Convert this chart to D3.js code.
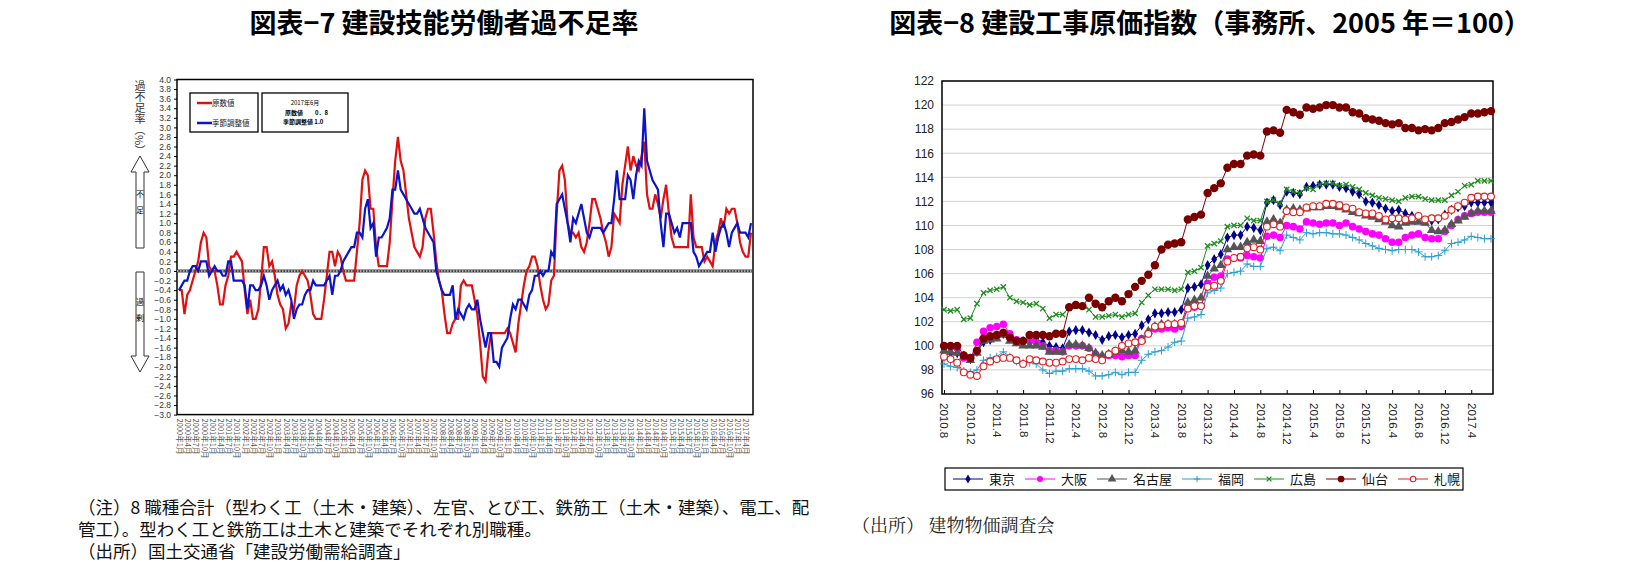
<!DOCTYPE html>
<html><head><meta charset="utf-8">
<script src="https://cdn.jsdelivr.net/npm/d3@7"></script>
<style>body{margin:0;background:#fff;font-family:"Noto Sans CJK JP",sans-serif}</style>
</head><body><svg id="c" width="1651" height="580"></svg>
<script>
// ---- Chart 7 data (monthly 2000年1月 - 2017年6月) ----
const raw7 = [
-0.4,-0.4,-0.9,-0.5,-0.4,-0.2,0.0,0.2,0.6,0.8,0.7,0.1,
0.0,0.0,-0.3,-0.7,-0.7,-0.3,-0.1,0.3,0.3,0.4,0.3,0.2,
-0.4,-0.9,-0.6,-1.0,-1.0,-0.8,-0.2,0.5,0.5,0.1,0.2,-0.1,
-0.5,-0.7,-0.8,-1.2,-1.1,-0.7,-0.8,-0.3,-0.1,0.0,-0.1,-0.2,
-0.5,-0.9,-1.0,-1.0,-1.0,-0.6,-0.1,0.4,0.4,0.1,0.4,0.3,
0.0,-0.2,-0.2,-0.2,-0.2,0.4,1.0,1.9,2.1,2.0,1.3,1.3,
0.5,0.1,0.1,0.1,0.1,0.6,1.5,2.3,2.8,2.3,2.1,1.6,
1.1,0.8,0.5,0.4,0.3,0.5,1.1,1.3,1.3,0.8,0.2,-0.2,
-0.4,-0.9,-1.3,-1.3,-1.1,-1.0,-1.0,-0.3,-0.2,-0.3,-0.3,-0.3,
-0.6,-0.9,-1.5,-2.2,-2.3,-1.7,-1.3,-1.3,-1.3,-1.3,-1.3,-1.3,
-1.2,-1.3,-1.5,-1.7,-1.1,-0.7,-0.3,0.0,0.1,0.3,0.3,0.1,
-0.3,-0.6,-0.8,-0.7,-0.2,-0.1,1.2,2.1,2.2,1.9,1.0,0.8,
0.8,0.7,0.8,0.5,0.4,0.6,1.0,1.5,1.5,1.3,1.1,0.8,
0.6,0.3,0.5,1.2,1.1,1.0,1.8,2.2,2.6,2.1,2.4,2.2,
2.1,2.4,2.7,1.6,1.3,1.3,1.6,1.4,1.1,1.5,1.8,1.2,
0.7,0.5,0.5,0.5,0.5,0.5,0.5,1.6,0.7,0.5,0.5,0.5,
0.2,0.3,0.2,0.1,0.6,0.8,1.1,0.9,1.3,1.2,1.3,1.3,
1.0,0.6,0.4,0.3,0.3,0.8];
const sa7 = [
-0.4,-0.3,-0.2,-0.2,0.0,0.1,0.1,0.0,0.2,0.2,0.2,-0.1,
0.0,0.1,0.0,0.0,-0.1,-0.1,0.2,0.2,-0.2,-0.2,-0.2,-0.2,
-0.3,-0.8,-0.3,-0.3,-0.4,-0.4,-0.3,-0.1,-0.3,-0.6,-0.4,-0.3,
-0.2,-0.4,-0.3,-0.5,-0.4,-0.6,-1.0,-0.8,-0.7,-0.7,-0.5,-0.4,
-0.4,-0.2,-0.3,-0.3,-0.3,-0.3,-0.2,-0.1,-0.5,-0.1,-0.1,0.0,
0.2,0.3,0.4,0.5,0.5,0.8,0.8,0.7,1.3,1.5,0.9,1.0,
0.3,0.7,0.7,0.8,0.9,1.1,1.7,1.7,2.1,1.7,1.6,1.5,
1.4,1.3,1.2,1.2,1.3,1.1,0.9,0.8,0.7,0.6,0.0,-0.2,
-0.4,-0.5,-0.5,-0.5,-0.3,-1.0,-0.8,-0.9,-1.0,-0.8,-0.7,-0.8,
-0.8,-0.6,-1.0,-1.3,-1.6,-1.3,-1.3,-1.9,-1.9,-2.0,-1.6,-1.5,
-1.4,-1.0,-0.7,-0.8,-0.6,-0.6,-0.7,-0.8,-0.5,-0.4,-0.1,-0.1,
0.0,-0.1,0.0,0.0,0.4,0.3,1.4,1.5,1.6,1.3,1.0,0.6,
1.1,1.0,1.2,1.4,1.1,0.8,0.7,0.9,0.9,0.9,0.9,0.8,
0.9,1.0,1.0,1.5,2.1,1.5,1.5,1.5,2.0,1.9,1.5,2.0,
2.3,2.2,3.4,2.3,2.1,1.9,1.8,1.7,1.0,0.5,1.2,1.2,
1.0,0.8,0.9,0.7,1.0,1.0,1.0,1.0,0.4,0.3,0.1,0.2,
0.3,0.4,0.4,0.8,0.4,0.7,0.9,1.0,0.8,0.5,0.8,0.9,
1.0,0.8,0.8,0.8,0.7,1.0];
const startYear7 = 2000;
const yTicks7 = d3.range(-30, 41, 2).map(v => v / 10);

// ---- Chart 8 data (monthly 2010.8 - 2017.7) ----
const cities = ["東京","大阪","名古屋","福岡","広島","仙台","札幌"];
const tokyo = [99.7,99.4,99.4,99.2,98.9,99.5,100.3,100.5,100.8,101.0,100.6,100.4,100.4,100.5,100.6,100.3,100.0,99.9,99.8,101.2,101.3,101.3,101.1,100.9,100.5,100.8,100.9,100.7,100.9,101.0,101.7,102.2,102.7,102.7,102.8,102.8,103.0,104.8,104.9,105.1,106.7,107.2,107.6,109.0,109.2,109.2,109.9,109.8,109.6,111.9,112.1,111.7,112.8,112.7,112.6,113.2,113.3,113.4,113.4,113.4,113.2,113.1,112.8,112.6,112.0,111.9,111.7,111.4,111.2,111.3,111.0,110.8,110.7,110.4,110.4,110.5,110.9,111.3,111.5,111.6,111.9,111.9,111.9,111.9];
const osaka = [100.0,99.9,99.8,99.0,98.9,100.3,101.2,101.5,101.6,101.8,101.0,100.5,100.4,100.4,100.3,100.0,99.6,99.6,99.5,100.0,100.0,100.0,99.8,99.3,99.1,99.2,99.2,99.1,99.2,99.2,100.6,101.0,101.4,101.4,101.5,101.4,101.6,103.1,103.2,103.3,105.2,105.7,105.8,107.2,107.3,107.3,107.5,107.4,107.3,109.1,109.2,109.0,110.0,109.9,109.7,110.3,110.2,110.1,110.2,110.2,110.0,110.2,109.9,109.7,109.5,109.3,109.2,108.9,108.6,108.6,109.0,109.2,109.3,109.0,108.9,108.9,109.5,110.0,110.5,110.8,111.0,111.1,111.1,111.1];
const nagoya = [99.6,99.5,99.4,99.1,98.8,99.4,100.4,100.5,100.6,100.9,100.4,100.2,100.0,100.0,100.0,99.9,99.5,99.5,99.5,100.1,100.1,100.0,99.8,99.4,99.2,99.3,99.5,99.6,99.5,99.6,100.5,101.2,101.6,101.8,101.8,101.8,101.8,103.6,103.8,104.0,105.8,106.4,106.7,108.0,108.2,108.2,108.6,108.8,108.7,110.3,110.5,110.2,111.3,111.4,111.3,111.4,111.5,111.5,111.6,111.6,111.5,111.3,111.1,111.0,110.8,110.7,110.5,110.3,110.0,109.9,110.2,110.3,110.3,110.2,109.6,109.5,109.6,110.1,110.4,110.7,111.0,111.2,111.2,111.2];
const fukuoka = [98.5,98.3,98.2,97.9,97.8,98.0,98.8,99.0,99.1,99.5,99.1,98.7,98.6,98.6,98.5,98.0,97.7,97.9,97.9,98.1,98.1,98.1,97.9,97.5,97.5,97.6,97.8,97.6,97.8,97.8,98.8,99.3,99.5,99.6,99.9,100.3,100.4,102.3,102.4,102.6,104.4,104.6,104.8,106.0,106.1,106.2,106.8,106.6,106.6,108.1,108.2,107.9,109.2,109.0,108.8,109.4,109.3,109.4,109.4,109.3,109.3,109.2,109.0,108.8,108.5,108.3,108.1,108.0,107.9,108.0,108.0,108.0,107.8,107.4,107.4,107.5,107.9,108.5,108.6,108.8,109.1,109.0,108.9,108.9];
const hiroshima = [103.0,102.9,103.0,102.2,102.3,103.5,104.4,104.6,104.7,104.9,104.0,103.7,103.6,103.4,103.5,103.1,102.3,102.6,102.6,103.2,103.3,103.3,103.0,102.4,102.4,102.5,102.6,102.4,102.6,102.7,103.6,104.2,104.7,104.7,104.7,104.6,104.7,106.1,106.2,106.5,108.3,108.5,108.7,109.9,110.0,110.0,110.6,110.4,110.4,112.0,112.1,111.8,113.0,112.8,112.7,113.1,113.0,113.4,113.5,113.5,113.3,113.4,113.2,113.0,112.7,112.5,112.3,112.2,112.1,112.0,112.3,112.4,112.4,112.2,112.1,112.1,112.1,112.5,112.8,113.3,113.4,113.7,113.7,113.7];
const sendai = [100.0,100.0,100.0,99.2,99.0,99.6,100.6,100.8,100.9,101.1,100.7,100.4,100.4,100.9,100.9,100.9,100.8,101.0,101.0,103.2,103.4,103.3,104.0,103.5,103.2,103.7,104.0,103.7,104.3,104.9,105.4,105.9,106.7,108.0,108.4,108.5,108.6,110.5,110.7,110.9,112.7,113.1,113.5,114.8,115.1,115.1,115.8,115.9,115.8,117.8,117.9,117.7,119.6,119.4,119.2,119.8,119.7,119.8,120.0,120.0,119.8,119.8,119.4,119.3,118.9,118.8,118.7,118.5,118.4,118.5,118.1,118.1,117.9,118.0,117.9,118.1,118.5,118.6,118.8,119.0,119.3,119.3,119.4,119.5];
const sapporo = [99.1,98.9,98.6,97.8,97.6,97.5,98.3,98.7,98.9,99.0,99.0,98.8,98.5,98.9,98.8,98.7,98.6,98.6,98.7,98.9,98.9,98.8,99.0,98.9,98.8,99.3,99.6,100.0,100.2,100.3,100.4,101.0,101.6,101.7,101.8,101.8,101.9,103.1,103.3,103.3,104.9,105.0,105.4,107.0,107.3,107.4,108.1,108.2,108.0,109.9,110.1,109.9,111.2,111.1,111.1,111.5,111.6,111.6,111.8,111.8,111.7,111.5,111.4,111.1,111.0,111.0,110.8,110.5,110.6,110.6,110.5,110.6,110.8,110.5,110.6,110.6,110.8,111.3,111.6,111.9,112.3,112.4,112.4,112.4];
const startYear8 = 2010, startMonth8 = 8;
const yTicks8 = d3.range(96, 123, 2);

const svg = d3.select("#c");
const JP = '"Noto Sans CJK JP",sans-serif';

// ---------- titles ----------
svg.append("text").attr("x",444).attr("y",33).attr("text-anchor","middle")
  .attr("font-family",JP).attr("font-weight","bold").attr("font-size",27).text("図表−7  建設技能労働者過不足率");
svg.append("text").attr("x",1210).attr("y",33).attr("text-anchor","middle")
  .attr("font-family",JP).attr("font-weight","bold").attr("font-size",27).text("図表−8  建設工事原価指数（事務所、2005 年＝100）");

// ---------- Chart 7 ----------
const L = {x0:177,x1:753,y0:79.5,y1:414.6};
const x7 = d3.scaleLinear().domain([0, raw7.length-1]).range([L.x0+2, L.x1-2]);
const y7 = d3.scaleLinear().domain([-3,4]).range([L.y1, L.y0]);
const g7 = svg.append("g");
g7.append("rect").attr("x",L.x0).attr("y",L.y0).attr("width",L.x1-L.x0).attr("height",L.y1-L.y0)
  .attr("fill","none").attr("stroke","#000").attr("stroke-width",1.5);
const ay7 = g7.append("g").attr("transform",`translate(${L.x0},0)`)
  .call(d3.axisLeft(y7).tickValues(yTicks7).tickFormat(d3.format(".1f")).tickSize(3));
ay7.select(".domain").remove();
ay7.selectAll("text").attr("font-family","Arial,Liberation Sans").attr("font-size",8.5).attr("fill","#333");
// zero line (hatched)
g7.append("line").attr("x1",L.x0).attr("x2",L.x1).attr("y1",y7(0)).attr("y2",y7(0))
  .attr("stroke","#444").attr("stroke-width",3);
g7.append("line").attr("x1",L.x0).attr("x2",L.x1).attr("y1",y7(0)).attr("y2",y7(0))
  .attr("stroke","#fff").attr("stroke-width",1.2).attr("stroke-dasharray","1.5,1.5");
// x labels (quarterly)
const q7 = d3.range(0, raw7.length, 3);
const ax7 = g7.append("g").attr("transform",`translate(0,${L.y1})`)
  .call(d3.axisBottom(x7).tickValues(q7).tickSize(0)
    .tickFormat(i => `${startYear7+Math.floor(i/12)}年${i%12+1}月`));
ax7.select(".domain").remove();
ax7.selectAll("text").attr("font-family",JP).attr("font-size",7.5).attr("fill","#555")
  .attr("transform","rotate(90)").attr("text-anchor","start").attr("x",4).attr("y",0).attr("dy","0.35em");
// lines
const line7 = d3.line().x((d,i)=>x7(i)).y(d=>y7(d));
g7.append("path").datum(raw7).attr("d",line7).attr("fill","none").attr("stroke","#e01010").attr("stroke-width",2.2);
g7.append("path").datum(sa7).attr("d",line7).attr("fill","none").attr("stroke","#0a14c8").attr("stroke-width",2.2);
// legend boxes
g7.append("rect").attr("x",190).attr("y",93).attr("width",68).attr("height",39).attr("fill","#fff").attr("stroke","#000").attr("stroke-width",1.3);
g7.append("rect").attr("x",262).attr("y",93).attr("width",86).attr("height",39).attr("fill","#fff").attr("stroke","#000").attr("stroke-width",1.3);
[["原数値","#e01010",103],["季節調整値","#0a14c8",123]].forEach(([t,c,y])=>{
  g7.append("line").attr("x1",197).attr("x2",212).attr("y1",y).attr("y2",y).attr("stroke",c).attr("stroke-width",2.5);
  g7.append("text").attr("x",212).attr("y",y+3).attr("font-family",JP).attr("font-size",7.5).attr("fill","#222").text(t);
});
g7.append("text").attr("x",305).attr("y",105).attr("text-anchor","middle").attr("font-family",JP).attr("font-size",6).text("2017年6月");
g7.append("text").attr("x",285).attr("y",115).attr("font-family",JP).attr("font-size",6).attr("font-weight","bold").text("原数値　　0．8");
g7.append("text").attr("x",283).attr("y",124).attr("font-family",JP).attr("font-size",6).attr("font-weight","bold").text("季節調整値  1.0");
// y title and arrow
const yt = g7.append("text").attr("x",140).attr("y",80).attr("font-family",JP).attr("font-size",11).attr("fill","#333")
  .attr("writing-mode","vertical-rl").attr("text-anchor","start");
yt.text("過不足率（%）");
g7.append("path").attr("d","M140,156 L131,172 L136,172 L136,248 L144,248 L144,172 L149,172 Z").attr("fill","#fff").attr("stroke","#333");
g7.append("path").attr("d","M140,372 L131,356 L136,356 L136,272 L144,272 L144,356 L149,356 Z").attr("fill","#fff").attr("stroke","#333");
g7.append("text").attr("x",140).attr("y",190).attr("font-family",JP).attr("font-size",8).attr("writing-mode","vertical-rl").text("不　足");
g7.append("text").attr("x",140).attr("y",298).attr("font-family",JP).attr("font-size",8).attr("writing-mode","vertical-rl").text("過　剰");

// notes
[["（注）8 職種合計（型わく工（土木・建築）、左官、とび工、鉄筋工（土木・建築）、電工、配",514],
 ["管工）。型わく工と鉄筋工は土木と建築でそれぞれ別職種。",536],
 ["（出所）国土交通省「建設労働需給調査」",558]].forEach(([t,y])=>{
  svg.append("text").attr("x",78).attr("y",y).attr("font-family",JP).attr("font-size",17.5).attr("fill","#111").text(t);
});
svg.append("text").attr("x",852).attr("y",532).attr("font-family",'"Noto Serif CJK JP","Noto Sans CJK JP",serif').attr("font-size",18).attr("fill","#222").text("（出所）  建物物価調査会");

// ---------- Chart 8 ----------
const R = {x0:942,x1:1493,y0:81,y1:394};
const n8 = tokyo.length;
const x8 = d3.scaleLinear().domain([0,n8-1]).range([944,1491]);
const y8 = d3.scaleLinear().domain([96,122]).range([R.y1,R.y0]);
const g8 = svg.append("g");
g8.append("g").selectAll("line").data(yTicks8.slice(1)).join("line")
  .attr("x1",R.x0).attr("x2",R.x1).attr("y1",d=>y8(d)).attr("y2",d=>y8(d)).attr("stroke","#d0d0d0");
const ay8 = g8.append("g").attr("transform",`translate(${R.x0},0)`).call(d3.axisLeft(y8).tickValues(yTicks8).tickSize(0).tickPadding(8));
ay8.select(".domain").remove();
ay8.selectAll("text").attr("font-family","Arial,Liberation Sans").attr("font-size",12).attr("fill","#222");
const xt8 = d3.range(0,n8,4);
const lab8 = i => { const m = startMonth8-1+i; return `${startYear8+Math.floor(m/12)}.${m%12+1}`; };
const ax8 = g8.append("g").attr("transform",`translate(0,${R.y1})`).call(d3.axisBottom(x8).tickValues(xt8).tickSize(-4).tickFormat(lab8));
ax8.select(".domain").remove();
ax8.selectAll("line").attr("stroke","#000");
ax8.selectAll("text").attr("font-family","Arial,Liberation Sans").attr("font-size",11.5).attr("fill","#222")
  .attr("transform","rotate(90)").attr("text-anchor","start").attr("x",9).attr("y",0).attr("dy","0.35em");
g8.append("rect").attr("x",R.x0).attr("y",R.y0).attr("width",R.x1-R.x0).attr("height",R.y1-R.y0).attr("fill","none").attr("stroke","#000").attr("stroke-width",1.5);

const series8 = [
 {name:"東京",data:tokyo,color:"#00008b",mk:"diamond"},
 {name:"大阪",data:osaka,color:"#ff00ff",mk:"circle"},
 {name:"名古屋",data:nagoya,color:"#555555",mk:"triangle"},
 {name:"福岡",data:fukuoka,color:"#2a9fd0",mk:"plus"},
 {name:"広島",data:hiroshima,color:"#1f8a1f",mk:"star"},
 {name:"仙台",data:sendai,color:"#7a0000",mk:"circle"},
 {name:"札幌",data:sapporo,color:"#e02020",mk:"open"}];
function marker(g, s, x, y, scale){
  const k = scale||1;
  if (s.mk==="diamond") g.append("path").attr("d",d3.symbol(d3.symbolDiamond, 30*k)()).attr("transform",`translate(${x},${y})`).attr("fill",s.color);
  else if (s.mk==="circle") g.append("circle").attr("cx",x).attr("cy",y).attr("r",(s.name==="仙台"?4.2:3.8)*k).attr("fill",s.color);
  else if (s.mk==="triangle") g.append("path").attr("d",d3.symbol(d3.symbolTriangle, 40*k)()).attr("transform",`translate(${x},${y})`).attr("fill",s.color);
  else if (s.mk==="plus") g.append("path").attr("d",`M${x-4*k},${y}H${x+4*k}M${x},${y-4*k}V${y+4*k}`).attr("stroke",s.color).attr("stroke-width",1);
  else if (s.mk==="star") g.append("path").attr("d",d3.symbol(d3.symbolX, 20*k)()).attr("transform",`translate(${x},${y})`).attr("fill","none").attr("stroke",s.color).attr("stroke-width",1.3);
  else if (s.mk==="open") g.append("circle").attr("cx",x).attr("cy",y).attr("r",3.4*k).attr("fill","#fff").attr("stroke",s.color).attr("stroke-width",1.1);
}
const line8 = d3.line().x((d,i)=>x8(i)).y(d=>y8(d));
series8.forEach(s=>{
  const gs = g8.append("g");
  gs.append("path").datum(s.data).attr("d",line8).attr("fill","none").attr("stroke",s.color).attr("stroke-width",1);
  s.data.forEach((v,i)=>marker(gs,s,x8(i),y8(v)));
});
// legend
const lg = svg.append("g");
lg.append("rect").attr("x",945).attr("y",468).attr("width",518).attr("height",22).attr("fill","#fff").attr("stroke","#000").attr("stroke-width",1.2);
let lx = 953;
series8.forEach(s=>{
  lg.append("line").attr("x1",lx).attr("x2",lx+30).attr("y1",479).attr("y2",479).attr("stroke",s.color).attr("stroke-width",1);
  marker(lg,s,lx+15,479,0.8);
  const t = lg.append("text").attr("x",lx+36).attr("y",484).attr("font-family",JP).attr("font-size",13).attr("fill","#111").text(s.name);
  lx += 36 + t.node().getComputedTextLength() + 10;
});
</script></body></html>
